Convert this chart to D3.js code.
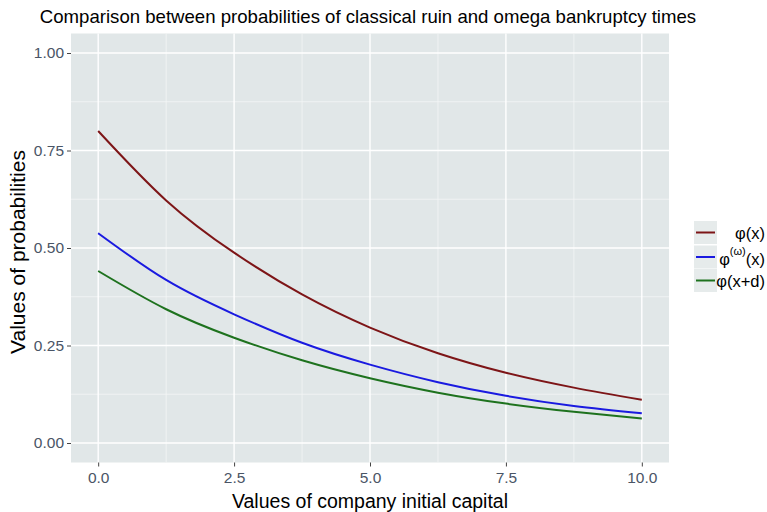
<!DOCTYPE html>
<html>
<head>
<meta charset="utf-8">
<script src="https://cdn.jsdelivr.net/npm/d3@7"></script>
<style>
  html, body { margin: 0; padding: 0; background: #ffffff; }
  svg { display: block; font-family: "Liberation Sans", Arial, sans-serif; }
</style>
</head>
<body>
<svg id="chart" width="767" height="512"></svg>
<script>
// Initial capital values at which the probabilities are sampled
const capital = [0, 1.25, 2.5, 3.75, 5, 6.25, 7.5, 8.75, 10];
// Classical ruin probability phi(x)
const phiRuin = [0.800, 0.622, 0.488, 0.381, 0.296, 0.230, 0.180, 0.142, 0.111];
// Omega bankruptcy probability phi^(omega)(x)
const phiOmega = [0.538, 0.418, 0.330, 0.257, 0.201, 0.156, 0.121, 0.095, 0.076];
// Shifted ruin probability phi(x+d)
const phiShift = [0.441, 0.343, 0.270, 0.212, 0.166, 0.129, 0.101, 0.080, 0.063];

const xTicks = [0, 2.5, 5, 7.5, 10];
const xMinor = [1.25, 3.75, 6.25, 8.75];
const yTicks = [0, 0.25, 0.5, 0.75, 1];
const yMinor = [0.125, 0.375, 0.625, 0.875];

const series = [
  { key: "phi", values: phiRuin, color: "#7d1517" },
  { key: "omega", values: phiOmega, color: "#1a1ae0" },
  { key: "shift", values: phiShift, color: "#1e721e" }
];

const svg = d3.select("#chart");
const panel = { left: 71, right: 669, top: 33.5, bottom: 462.5 };

const x = d3.scaleLinear().domain([-0.5, 10.5]).range([panel.left, panel.right]);
const y = d3.scaleLinear().domain([-0.05, 1.05]).range([panel.bottom, panel.top]);

// Panel background
svg.append("rect")
  .attr("x", panel.left).attr("y", panel.top)
  .attr("width", panel.right - panel.left).attr("height", panel.bottom - panel.top)
  .attr("fill", "#e1e7e8");

// Grid lines
const grid = svg.append("g");
grid.selectAll("line.vminor").data(xMinor).join("line")
  .attr("x1", d => x(d)).attr("x2", d => x(d))
  .attr("y1", panel.top).attr("y2", panel.bottom)
  .attr("stroke", "#f4f6f6").attr("stroke-width", 0.8);
grid.selectAll("line.hminor").data(yMinor).join("line")
  .attr("y1", d => y(d)).attr("y2", d => y(d))
  .attr("x1", panel.left).attr("x2", panel.right)
  .attr("stroke", "#f4f6f6").attr("stroke-width", 0.8);
grid.selectAll("line.vmajor").data(xTicks).join("line")
  .attr("x1", d => x(d)).attr("x2", d => x(d))
  .attr("y1", panel.top).attr("y2", panel.bottom)
  .attr("stroke", "#ffffff").attr("stroke-width", 1.4);
grid.selectAll("line.hmajor").data(yTicks).join("line")
  .attr("y1", d => y(d)).attr("y2", d => y(d))
  .attr("x1", panel.left).attr("x2", panel.right)
  .attr("stroke", "#ffffff").attr("stroke-width", 1.4);

// Curves
const line = d3.line()
  .x((d, i) => x(capital[i]))
  .y(d => y(d))
  .curve(d3.curveNatural);

svg.append("g").selectAll("path").data(series).join("path")
  .attr("d", d => line(d.values))
  .attr("fill", "none")
  .attr("stroke", d => d.color)
  .attr("stroke-width", 2);

// Axes
const xAxis = d3.axisBottom(x).tickValues(xTicks).tickFormat(d3.format(".1f"))
  .tickSize(4).tickPadding(4);
const yAxis = d3.axisLeft(y).tickValues(yTicks).tickFormat(d3.format(".2f"))
  .tickSize(4).tickPadding(3);

const gx = svg.append("g").attr("transform", `translate(0,${panel.bottom})`).call(xAxis);
const gy = svg.append("g").attr("transform", `translate(${panel.left},0)`).call(yAxis);
[gx, gy].forEach(g => {
  g.select(".domain").remove();
  g.selectAll(".tick line").attr("stroke", "#444444").attr("stroke-width", 1);
  g.selectAll(".tick text")
    .attr("fill", "#4a5566")
    .style("font-size", "15.5px")
    .style("font-family", "'Liberation Sans', Arial, sans-serif");
});
gx.selectAll(".tick text").attr("dy", "0.8em");

// Title and axis titles
svg.append("text")
  .attr("x", 368).attr("y", 22.5)
  .attr("text-anchor", "middle")
  .attr("fill", "#000000")
  .style("font-size", "18.6px")
  .text("Comparison between probabilities of classical ruin and omega bankruptcy times");

svg.append("text")
  .attr("x", (panel.left + panel.right) / 2).attr("y", 508)
  .attr("text-anchor", "middle")
  .attr("fill", "#000000")
  .style("font-size", "19.5px")
  .text("Values of company initial capital");

svg.append("text")
  .attr("transform", `translate(25,${(panel.top + panel.bottom) / 2 + 4}) rotate(-90)`)
  .attr("text-anchor", "middle")
  .attr("fill", "#000000")
  .style("font-size", "21px")
  .text("Values of probabilities");

// Legend
const legendRows = [232.5, 257, 280.5];
const legend = svg.append("g");
series.forEach((s, i) => {
  const cy = legendRows[i];
  legend.append("rect")
    .attr("x", 694).attr("y", cy - 11.5)
    .attr("width", 23).attr("height", 23)
    .attr("fill", "#e6ebeb");
  legend.append("line")
    .attr("x1", 696).attr("x2", 715)
    .attr("y1", cy).attr("y2", cy)
    .attr("stroke", s.color).attr("stroke-width", 2);
});

const labelStyle = t => t.attr("text-anchor", "end").attr("fill", "#000000")
  .style("font-size", "16.5px");

legend.append("text").attr("x", 765).attr("y", legendRows[0] + 6)
  .call(labelStyle).text("φ(x)");

const omegaLabel = legend.append("text").attr("x", 765).attr("y", legendRows[1] + 8)
  .call(labelStyle);
omegaLabel.append("tspan").text("φ");
omegaLabel.append("tspan").attr("dy", -10).style("font-size", "11px").text("(ω)");
omegaLabel.append("tspan").attr("dy", 10).text("(x)");

legend.append("text").attr("x", 765).attr("y", legendRows[2] + 6)
  .call(labelStyle).text("φ(x+d)");
</script>
</body>
</html>
